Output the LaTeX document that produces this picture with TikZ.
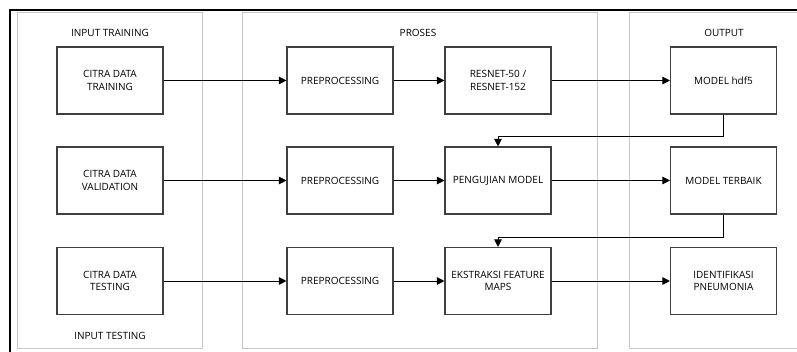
\documentclass[tikz,border=0pt]{standalone}
\usepackage{fontspec}
\setmainfont{Open Sans}
\usetikzlibrary{arrows.meta,positioning,calc}
\tikzset{
  lane/.style={draw=black!22, line width=1pt},
  frame/.style={draw=black, line width=2pt},
  stepbox/.style={draw=black!75, line width=1.1pt, minimum width=106pt, minimum height=67pt,
    align=center, font=\fontsize{10}{12.5}\selectfont, inner sep=0pt},
  title/.style={font=\fontsize{10}{12}\selectfont, inner sep=0pt},
  conn/.style={draw=black, line width=0.9pt, -{Triangle[length=7.5pt,width=7.5pt]}},
}
\begin{document}
\begin{tikzpicture}[x=1pt,y=-1pt]
\useasboundingbox (0,0) rectangle (797,352);
% outer frame (open on the right and bottom)
\draw[frame] (10,360) -- (10,10) -- (810,10);
% swim lanes
\draw[lane] (17,13) rectangle (202,348);
\draw[lane] (242,13) rectangle (597,348);
\draw[lane] (629,13) rectangle (820,348);
% lane titles
\node[title] (tin) at (110,33) {INPUT TRAINING};
\node[title] (tpr) at (418,33) {PROSES};
\node[title] (tout) at (724,33) {OUTPUT};
\node[title] (ttest) at (110,336) {INPUT TESTING};
% row 1
\node[stepbox] (cdtr) at (110,80.5) {CITRA DATA\\TRAINING};
\node[stepbox] (pre1) at (340,80.5) {PREPROCESSING};
\node[stepbox] (res) at (498,80.5) {RESNET-50 /\\RESNET-152};
\node[stepbox] (hdf) at (723.5,80.5) {MODEL hdf5};
% row 2
\node[stepbox] (cdva) at (110,180.5) {CITRA DATA\\VALIDATION};
\node[stepbox] (pre2) at (340,180.5) {PREPROCESSING};
\node[stepbox] (uji) at (498,180.5) {PENGUJIAN MODEL};
\node[stepbox] (best) at (723.5,180.5) {MODEL TERBAIK};
% row 3
\node[stepbox] (cdte) at (110,281) {CITRA DATA\\TESTING};
\node[stepbox] (pre3) at (340,281) {PREPROCESSING};
\node[stepbox] (fmap) at (498,281) {EKSTRAKSI FEATURE\\MAPS};
\node[stepbox] (pneu) at (723.5,281) {IDENTIFIKASI\\PNEUMONIA};
% horizontal flow
\draw[conn] (cdtr) -- (pre1);
\draw[conn] (pre1) -- (res);
\draw[conn] (res) -- (hdf);
\draw[conn] (cdva) -- (pre2);
\draw[conn] (pre2) -- (uji);
\draw[conn] (uji) -- (best);
\draw[conn] (cdte) -- (pre3);
\draw[conn] (pre3) -- (fmap);
\draw[conn] (fmap) -- (pneu);
% feedback into the next stage
\draw[conn] (hdf.south) |- (498,136) -- (uji.north);
\draw[conn] (best.south) |- (498,237) -- (fmap.north);
\end{tikzpicture}
\end{document}
